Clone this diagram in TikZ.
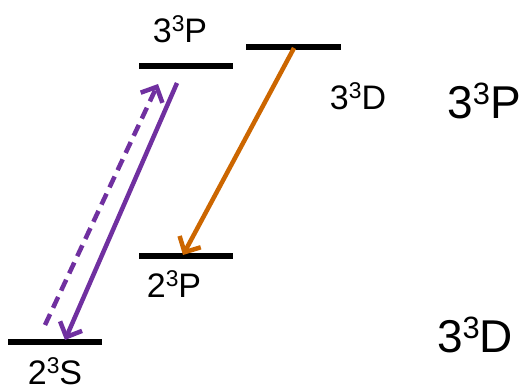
\documentclass[tikz,border=0pt]{standalone}
\usepackage{fontspec}
\setmainfont{Liberation Sans}
\usetikzlibrary{arrows.meta}
\definecolor{lvpurple}{RGB}{112,48,160}
\definecolor{lvorange}{RGB}{204,102,0}
\newcommand\lvlab[2]{#1\raisebox{0.3em}{\scalebox{0.67}{3}}#2}
\begin{document}
\begin{tikzpicture}[x=1pt,y=-1pt,
  level/.style={line width=5.5pt},
  small/.style={inner sep=0pt,anchor=base,font=\fontsize{34}{40}\selectfont},
  big/.style={inner sep=0pt,anchor=base,font=\fontsize{46}{54}\selectfont},
  trans/.style={line width=4.5pt,-{Straight Barb[length=12pt,width=24pt,line width=4.5pt]}}]
\useasboundingbox (0,0) rectangle (521,389);
% levels
\coordinate (p3L) at (139,66);  \coordinate (p3R) at (233,66);
\coordinate (d3L) at (246,47);  \coordinate (d3R) at (341,47);
\coordinate (p2L) at (139,256); \coordinate (p2R) at (233,256);
\coordinate (s2L) at (8,342);   \coordinate (s2R) at (102,342);
\draw[level] (p3L) -- (p3R);
\draw[level] (d3L) -- (d3R);
\draw[level] (p2L) -- (p2R);
\draw[level] (s2L) -- (s2R);
% labels
\node[small] (lp3) at (180,42) {\lvlab{3}{P}};
\node[small] (ld3) at (358,109) {\lvlab{3}{D}};
\node[small] (lp2) at (174,297) {\lvlab{2}{P}};
\node[small] (ls2) at (55,384) {\lvlab{2}{S}};
\node[big] (bp3) at (484,118) {\lvlab{3}{P}};
\node[big] (bd3) at (475,352) {\lvlab{3}{D}};
% transition end points
\coordinate (solA) at (177,83);  \coordinate (solB) at (65,340);
\coordinate (dasA) at (45,325);  \coordinate (dasB) at (158,84);
\coordinate (orA) at (294,48);   \coordinate (orB) at (183,255);
\draw[trans,lvpurple] (solA) -- (solB);
\draw[trans,lvpurple,dash pattern=on 12pt off 7pt] (dasA) -- (dasB);
\draw[trans,lvorange] (orA) -- (orB);
\end{tikzpicture}
\end{document}
